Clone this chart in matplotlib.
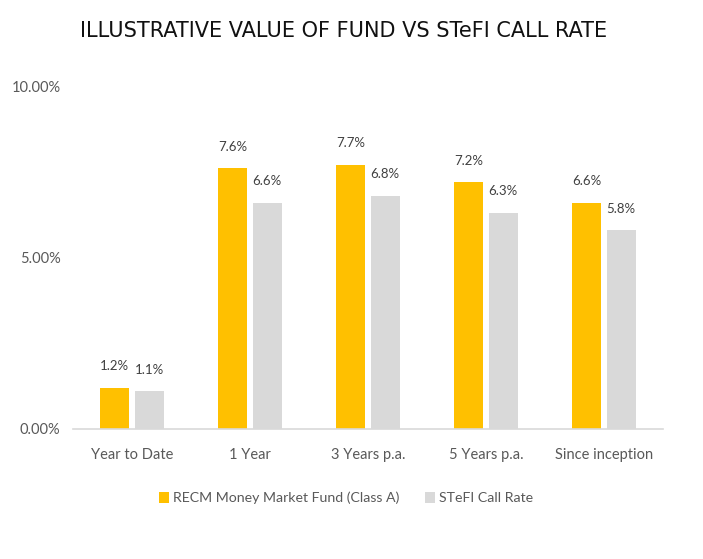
import matplotlib
matplotlib.use("Agg")
import matplotlib.pyplot as plt
import numpy as np

categories = ["Year to Date", "1 Year", "3 Years p.a.", "5 Years p.a.", "Since inception"]
fund = [1.2, 7.6, 7.7, 7.2, 6.6]
stefi = [1.1, 6.6, 6.8, 6.3, 5.8]
series_names = ["RECM Money Market Fund (Class A)", "STeFI Call Rate"]
yticks = [0, 5, 10]
ytick_labels = ["0.00%", "5.00%", "10.00%"]

plt.rcParams['font.family'] = ['Lato', 'DejaVu Sans']

fig = plt.figure(figsize=(7.03, 5.59), dpi=100)
ax = fig.add_axes([73/703, 1-429/559, (663-73)/703, (429-86)/559])

x = np.arange(len(categories))
w = 0.245
off = 0.145
b1 = ax.bar(x - off, fund, w, color="#FFC000", label=series_names[0], zorder=2)
b2 = ax.bar(x + off, stefi, w, color="#D9D9D9", label=series_names[1], zorder=2)
for bars, vals in ((b1, fund), (b2, stefi)):
    for r, v in zip(bars, vals):
        ax.text(r.get_x() + r.get_width()/2, v + 0.45, f"{v:.1f}%", ha="center", va="bottom",
                fontsize=9.5, color="#404040")

ax.set_xlim(-0.5, len(categories) - 0.5)
ax.set_ylim(0, 10)
ax.set_yticks(yticks)
ax.set_yticklabels(ytick_labels)
ax.set_xticks(x)
ax.set_xticklabels(categories)
ax.tick_params(axis='both', length=0, labelsize=10.5, colors="#595959")
ax.tick_params(axis='x', pad=14)
ax.tick_params(axis='y', pad=9)
for s in ["top", "right", "left"]:
    ax.spines[s].set_visible(False)
ax.spines["bottom"].set_color("#D9D9D9")
ax.spines["bottom"].set_linewidth(1.2)

fig.text(344/703, 1-31/559, "ILLUSTRATIVE VALUE OF FUND VS STeFI CALL RATE",
         ha="center", va="center", fontsize=15, color="#111111",
         family=['DejaVu Sans'], fontweight='normal')

leg = fig.legend(handles=[b1, b2], labels=series_names, loc="center",
                 bbox_to_anchor=(346/703, 1-498/559), ncol=2, frameon=False,
                 fontsize=10.2, handlelength=0.7, handleheight=0.9, handletextpad=0.3,
                 columnspacing=1.8)
for t in leg.get_texts():
    t.set_color("#595959")

fig.savefig("out.png", dpi=100)
